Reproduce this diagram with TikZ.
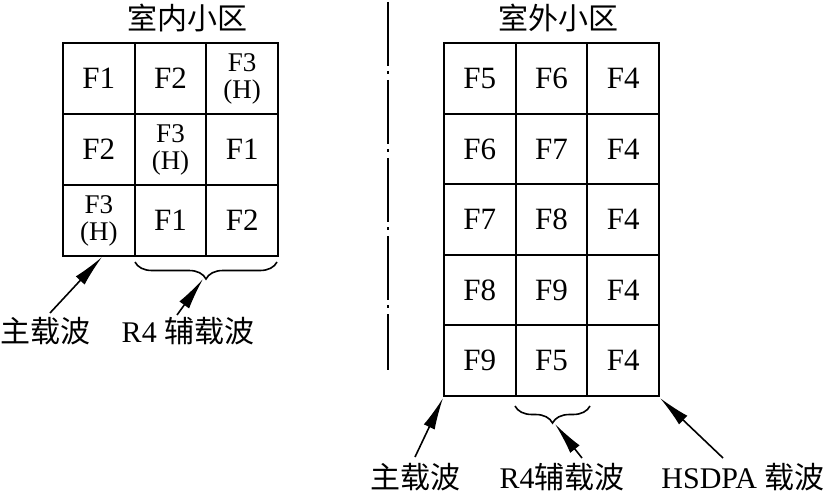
\documentclass[tikz,border=0pt]{standalone}
\usepackage{fontspec}
\setmainfont{Liberation Serif}
\newfontfamily\cjk{Noto Sans CJK SC}
\usetikzlibrary{arrows.meta,decorations.pathreplacing}
\begin{document}
\begin{tikzpicture}[x=1pt,y=-1pt,
  cellbox/.style={draw,line width=2pt,minimum width=71.67pt,minimum height=#1,outer sep=0pt,inner sep=0pt,font=\fontsize{31}{31}\selectfont,align=center},
  cellbox/.default=71pt,
  two/.style={font=\fontsize{27}{27}\selectfont},
  lbl/.style={font=\fontsize{30}{30}\selectfont,inner sep=0pt},
  ptr/.style={line width=1.6pt,-{Latex[length=32pt,width=12pt]}},
  brc/.style={line width=1.6pt,decorate,decoration={brace,amplitude=17pt}}]
\useasboundingbox (0,0) rectangle (826,494);
% titles
\node[lbl] (t1) at (187,18) {\cjk 室内小区};
\node[lbl] (t2) at (558,18) {\cjk 室外小区};
% left grid
\node[cellbox] (a11) at (98.8,78.5) {F1};
\node[cellbox] (a12) at (170.5,78.5) {F2};
\node[cellbox,two] (a13) at (242.2,78.5) {F3\\(H)};
\node[cellbox] (a21) at (98.8,149.5) {F2};
\node[cellbox,two] (a22) at (170.5,149.5) {F3\\(H)};
\node[cellbox] (a23) at (242.2,149.5) {F1};
\node[cellbox,two] (a31) at (98.8,220.5) {F3\\(H)};
\node[cellbox] (a32) at (170.5,220.5) {F1};
\node[cellbox] (a33) at (242.2,220.5) {F2};
% right grid
\foreach \r/\y/\p/\q/\s in {1/78.3/F5/F6/F4, 2/148.9/F6/F7/F4, 3/219.5/F7/F8/F4, 4/290.1/F8/F9/F4, 5/360.7/F9/F5/F4}{
  \node[cellbox=70.6pt] (b\r1) at (479.8,\y) {\p};
  \node[cellbox=70.6pt] (b\r2) at (551.5,\y) {\q};
  \node[cellbox=70.6pt] (b\r3) at (623.2,\y) {\s};
}
% separator
\draw[line width=1.6pt,dash pattern=on 64pt off 5pt on 3pt off 6pt] (388,2) -- (388,370);
% braces
\coordinate (lb1) at (277,262);
\coordinate (lb2) at (135,262);
\draw[brc] (lb1) -- (lb2);
\coordinate (rb1) at (590,406);
\coordinate (rb2) at (515,406);
\draw[brc] (rb1) -- (rb2);
% labels
\node[lbl] (l1) at (45,331) {\cjk 主载波};
\node[lbl] (l2) at (188,331) {R4 {\cjk 辅载波}};
\node[lbl] (l3) at (415,477) {\cjk 主载波};
\node[lbl] (l4) at (562,477) {R4{\cjk 辅载波}};
\node[lbl] (l5) at (743,477) {HSDPA {\cjk 载波}};
% arrow start/end points
\coordinate (s1) at (50,313);
\coordinate (e1) at (102,257);
\coordinate (s2) at (177,315);
\coordinate (e2) at (203,279);
\coordinate (s3) at (415,457);
\coordinate (e3) at (443,398);
\coordinate (s4) at (582,458);
\coordinate (e4) at (555,424);
\coordinate (s5) at (723,458);
\coordinate (e5) at (660,398);
\draw[ptr] (s1) -- (e1);
\draw[ptr] (s2) -- (e2);
\draw[ptr] (s3) -- (e3);
\draw[ptr] (s4) -- (e4);
\draw[ptr] (s5) -- (e5);
\end{tikzpicture}
\end{document}
